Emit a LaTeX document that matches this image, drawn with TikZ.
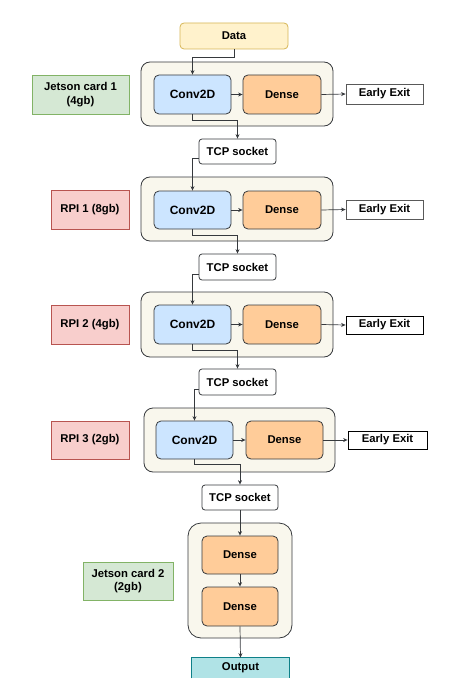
\documentclass[tikz,border=0pt]{standalone}
\usepackage{fontspec}
\setmainfont{Liberation Sans}
\usetikzlibrary{arrows.meta}
\definecolor{contfill}{HTML}{F9F7ED}
\definecolor{dk}{HTML}{36393D}
\definecolor{convfill}{HTML}{CCE5FF}
\definecolor{densefill}{HTML}{FFCC99}
\definecolor{datafill}{HTML}{FFF2CC}
\definecolor{datadraw}{HTML}{D6B656}
\definecolor{gfill}{HTML}{D5E8D4}
\definecolor{gdraw}{HTML}{82B366}
\definecolor{rfill}{HTML}{F8CECC}
\definecolor{rdraw}{HTML}{B85450}
\definecolor{ofill}{HTML}{B0E3E6}
\definecolor{odraw}{HTML}{0E8088}
\tikzset{
  base/.style={inner sep=0pt, font=\fontsize{11.3}{13.5}\selectfont\bfseries, align=center, line width=0.8pt},
  cont/.style={draw=dk, fill=contfill, rounded corners=9pt, line width=0.8pt},
  conv/.style={base, font=\fontsize{12}{14}\selectfont\bfseries, draw=dk, fill=convfill, rounded corners=5pt, minimum width=77pt, minimum height=39pt},
  densebox/.style={base, draw=dk, fill=densefill, rounded corners=5pt, minimum width=78pt, minimum height=39pt},
  exitbox/.style={base, draw=black!65, fill=white, minimum width=77pt, minimum height=20pt},
  tcpbox/.style={base, draw=dk, fill=white, rounded corners=3pt, minimum width=77pt, minimum height=25pt},
  gbox/.style={base, draw=gdraw, fill=gfill, minimum height=39pt},
  rbox/.style={base, draw=rdraw, fill=rfill, minimum width=78pt, minimum height=39pt},
  arr/.style={draw=dk, line width=0.7pt, -{Stealth[length=4.5pt,width=4pt]}},
}
\begin{document}
\begin{tikzpicture}[x=1pt,y=-1pt]
\useasboundingbox (0,0) rectangle (462,698);
% containers
\node[cont, minimum width=192pt, minimum height=64pt] (k1) at (237,94) {};
\node[cont, minimum width=192pt, minimum height=64pt] (k2) at (237,209) {};
\node[cont, minimum width=192pt, minimum height=65pt] (k3) at (237,324.5) {};
\node[cont, minimum width=191pt, minimum height=64pt] (k4) at (239.5,440) {};
\node[cont, minimum width=104pt, minimum height=115pt, rounded corners=13pt] (k5) at (240,580.5) {};
% data
\node[base, draw=datadraw, fill=datafill, rounded corners=4pt, minimum width=108pt, minimum height=26pt] (data) at (234,36) {Data};
% row 1
\node[gbox, minimum width=97pt] (j1) at (80.5,94.5) {Jetson card 1\\(4gb)};
\node[conv] (c1) at (192.5,94.5) {Conv2D};
\node[densebox] (d1) at (282,94.5) {Dense};
\node[exitbox] (e1) at (384.5,94) {Early Exit};
\node[tcpbox] (t1) at (237.5,151.5) {TCP socket};
% row 2
\node[rbox] (r1) at (90,209.5) {RPI 1 (8gb)};
\node[conv, minimum height=38pt] (c2) at (192.5,210) {Conv2D};
\node[densebox, minimum height=38pt] (d2) at (282,210) {Dense};
\node[exitbox, minimum height=19pt] (e2) at (384.5,209.5) {Early Exit};
\node[tcpbox, minimum height=26pt] (t2) at (237.5,267) {TCP socket};
% row 3
\node[rbox] (r2) at (90,324.5) {RPI 2 (4gb)};
\node[conv] (c3) at (192.5,324.5) {Conv2D};
\node[densebox] (d3) at (282,324.5) {Dense};
\node[exitbox, draw=black, minimum height=18pt] (e3) at (384.5,325) {Early Exit};
\node[tcpbox, minimum height=26pt] (t3) at (237.5,382) {TCP socket};
% row 4
\node[rbox, minimum height=38pt] (r3) at (90,440) {RPI 3 (2gb)};
\node[conv, minimum height=38pt] (c4) at (194.5,440) {Conv2D};
\node[densebox, minimum width=77pt, minimum height=38pt] (d4) at (284.5,440) {Dense};
\node[exitbox, draw=black, minimum width=79pt, minimum height=18pt] (e4) at (387.5,440) {Early Exit};
\node[tcpbox, minimum width=76pt] (t4) at (240,497.5) {TCP socket};
% last device
\node[gbox, minimum width=90pt, minimum height=38pt] (j2) at (128,581) {Jetson card 2\\(2gb)};
\node[densebox, minimum width=76pt, minimum height=38pt] (d5) at (240,555) {Dense};
\node[densebox, minimum width=76pt, minimum height=39pt] (d6) at (240,606.5) {Dense};
\node[base, fill=ofill, minimum width=97pt, minimum height=20pt] (out) at (240.5,668) {Output};
\draw[odraw, line width=0.8pt] (out.south west) -- (out.north west) -- (out.north east) -- (out.south east);
% connectors
\draw[arr] (data.south) -- ++(0,8) -| (c1.north);
\draw[arr] (c1.east) -- (d1.west);
\draw[arr] (d1.east) -- (e1.west);
\draw[arr] (c1.south) -- ++(0,6) -| (t1.north);
\draw[arr] ([yshift=-6.5pt]t1.west) -| (c2.north);
\draw[arr] (c2.east) -- (d2.west);
\draw[arr] (d2.east) -- (e2.west);
\draw[arr] (c2.south) -- ++(0,6) -| (t2.north);
\draw[arr] ([yshift=-7pt]t2.west) -| (c3.north);
\draw[arr] (c3.east) -- (d3.west);
\draw[arr] (d3.east) -- (e3.west);
\draw[arr] (c3.south) -- ++(0,6) -| (t3.north);
\draw[arr] ([yshift=-7pt]t3.west) -| (c4.north);
\draw[arr] (c4.east) -- (d4.west);
\draw[arr] (d4.east) -- (e4.west);
\draw[arr] (c4.south) -- ++(0,5) -| (t4.north);
\draw[arr] (t4.south) -- (d5.north);
\draw[arr] (d5.south) -- (d6.north);
\draw[arr] (d6.south) -- (out.north);
\end{tikzpicture}
\end{document}
